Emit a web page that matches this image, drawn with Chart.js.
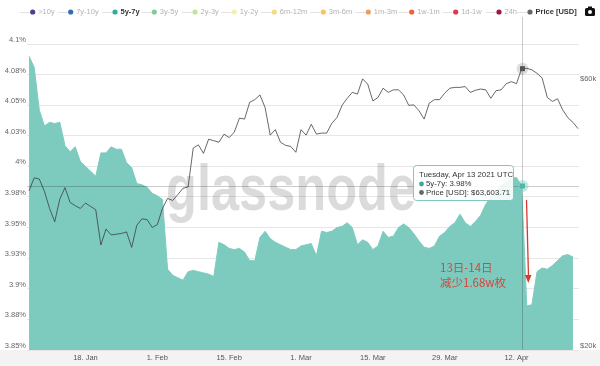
<!DOCTYPE html>
<html><head><meta charset="utf-8">
<script src="https://cdn.jsdelivr.net/npm/chart.js@4"></script>
<style>html,body{margin:0;padding:0;background:#fff}#wrap{width:600px;height:366px;position:relative}</style>
</head><body><div id="wrap"><canvas id="c" width="600" height="366"></canvas></div>
<script>
// day-of-year 2021 of the first data point (Jan 7)
const startDay = 7;
// 5y-7y share of supply (%), daily Jan 7 .. Apr 23
const supply5y7y = [
 4.090,4.081,4.046,4.033,4.036,4.035,4.036,4.017,4.012,4.016,4.004,4.000,3.996,3.992,
 4.011,4.011,4.016,4.014,4.014,4.003,3.999,3.986,3.985,3.983,3.978,3.976,3.973,
 3.916,3.911,3.909,3.907,3.914,3.915,3.914,3.913,3.912,3.910,3.938,3.936,3.933,3.932,
 3.933,3.930,3.923,3.923,3.942,3.947,3.941,3.938,3.936,3.934,3.932,3.932,3.935,
 3.936,3.937,3.927,3.947,3.946,3.947,3.950,3.951,3.954,3.950,3.936,3.940,3.938,3.932,
 3.935,3.947,3.942,3.943,3.950,3.953,3.950,3.945,3.939,3.934,3.933,3.935,3.943,3.946,
 3.951,3.954,3.961,3.954,3.951,3.955,3.960,3.969,3.975,3.980,3.984,3.987,3.990,3.991,
 3.984,3.886,3.887,3.914,3.917,3.916,3.919,3.923,3.927,3.928,3.926
];
// BTC price (USD), daily Jan 7 .. Apr 24
const priceUSD = [
 38500,40600,40400,38400,35800,33900,37200,39000,36700,36200,35800,36600,36100,35600,
 30800,32900,32100,32200,32300,32500,30500,33400,34300,34200,33100,33500,35800,
 37300,37000,37900,38900,39100,45900,46500,44900,47600,47300,47000,48600,47900,49000,
 51900,51700,55400,56000,57100,54200,48400,49500,47000,46400,46200,45100,49500,
 48400,50600,48600,48800,48800,50800,52000,54700,56300,57700,57300,61000,59700,55700,
 56500,58700,57700,58300,58300,57100,54700,54800,53500,51700,55200,56000,56000,57500,
 58700,58900,58900,59100,57700,58200,58500,58300,56300,58100,58300,59800,60300,59800,
 63603.71,63700,63300,62400,61200,56500,55600,56200,53700,52000,51000,49700
];
const xTickDays = [18,32,46,60,74,88,102];
const xTickLabels = ['18. Jan','1. Feb','15. Feb','1. Mar','15. Mar','29. Mar','12. Apr'];
const yTicks = [3.85,3.875,3.9,3.925,3.95,3.975,4,4.025,4.05,4.075,4.1];
const yTickLabels = ['3.85%','3.88%','3.9%','3.93%','3.95%','3.98%','4%','4.03%','4.05%','4.08%','4.1%'];
const priceTicks = [20000,60000];
const priceTickLabels = ['$20k','$60k'];
const legendNames = ['>10y','7y-10y','5y-7y','3y-5y','2y-3y','1y-2y','6m-12m','3m-6m','1m-3m','1w-1m','1d-1w','24h','Price [USD]'];
const legendColors = ['#4b3f91','#2f6fb0','#3aa99c','#86ca93','#c3e39a','#f3f2a8','#f7d97e','#f6c265','#f49b58','#e8653f','#d83c4c','#9a1747','#666666'];
const legendActive = ['5y-7y','Price [USD]'];
const highlightDay = 103; // Apr 13
const noteLines = ['13日-14日','减少1.68w枚'];

const FONT = "'Liberation Sans', Arial, sans-serif";
const TEAL = '#7dcbbf';

const areaPts = supply5y7y.map((v,i)=>({x:startDay+i,y:v}));
const pricePts = priceUSD.map((v,i)=>({x:startDay+i,y:v}));

const extras = {
  id:'extras',
  beforeDraw(chart){
    const c = chart.ctx;
    c.save();
    c.fillStyle = '#f3f3f3';
    c.fillRect(0, chart.chartArea.bottom, chart.width, chart.height - chart.chartArea.bottom);
    c.restore();
  },
  beforeDatasetsDraw(chart){
    const c = chart.ctx;
    c.save();
    c.font = "bold 64px " + FONT;
    const w = c.measureText('glassnode').width;
    c.translate(166, 210);
    c.scale(250 / w, 1);
    c.fillStyle = 'rgba(0,0,0,0.14)';
    c.textBaseline = 'alphabetic';
    c.fillText('glassnode', 0, 0);
    c.restore();
  },
  afterDatasetsDraw(chart){
    const c = chart.ctx, a = chart.chartArea;
    const xs = chart.scales.x, ys = chart.scales.y, yp = chart.scales.yP;
    const idx = highlightDay - startDay;
    const hx = Math.round(xs.getPixelForValue(highlightDay)) + 0.5;
    const hyS = ys.getPixelForValue(supply5y7y[idx]);
    const hyP = yp.getPixelForValue(priceUSD[idx]);
    c.save();
    // crosshair
    c.strokeStyle = 'rgba(0,0,0,0.2)';
    c.lineWidth = 1;
    c.beginPath(); c.moveTo(hx, 17); c.lineTo(hx, a.bottom); c.stroke();
    c.beginPath(); c.moveTo(a.left, Math.round(hyS)+0.5); c.lineTo(a.right, Math.round(hyS)+0.5); c.stroke();
    // markers
    c.fillStyle = 'rgba(125,203,191,0.45)';
    c.beginPath(); c.arc(hx, hyS, 6, 0, Math.PI*2); c.fill();
    c.fillStyle = '#4fb7a8';
    c.fillRect(hx-2.5, hyS-2.5, 5, 5);
    c.fillStyle = 'rgba(0,0,0,0.13)';
    c.beginPath(); c.arc(hx, hyP, 6, 0, Math.PI*2); c.fill();
    c.fillStyle = '#555';
    c.fillRect(hx-2.5, hyP-2.5, 5, 5);
    // annotation arrow
    const ax0 = hx + 4, ax1 = hx + 6, ay0 = hyS + 14, ay1 = ys.getPixelForValue(3.9055);
    c.strokeStyle = '#d43a2e'; c.fillStyle = '#d43a2e'; c.lineWidth = 1.3;
    c.beginPath(); c.moveTo(ax0, ay0); c.lineTo(ax1, ay1 - 5); c.stroke();
    c.beginPath(); c.moveTo(ax1 - 3.5, ay1 - 7); c.lineTo(ax1 + 3, ay1 - 7); c.lineTo(ax1 - 0.2, ay1 + 1); c.closePath(); c.fill();
    // annotation text
    c.fillStyle = '#d8463b';
    c.font = "11.5px 'Noto Sans CJK SC', sans-serif";
    c.textBaseline = 'middle'; c.textAlign = 'left';
    c.fillText(noteLines[0], 440, 268);
    c.fillText(noteLines[1], 440, 283);
    // tooltip
    const bx = 413.5, by = 165.5, bw = 100, bh = 35;
    c.beginPath();
    if (c.roundRect) c.roundRect(bx, by, bw, bh, 3); else c.rect(bx, by, bw, bh);
    c.fillStyle = 'rgba(255,255,255,0.88)'; c.fill();
    c.strokeStyle = TEAL; c.lineWidth = 1; c.stroke();
    const d = new Date(Date.UTC(2021, 0, highlightDay));
    const wd = ['Sunday','Monday','Tuesday','Wednesday','Thursday','Friday','Saturday'][d.getUTCDay()];
    const mo = ['Jan','Feb','Mar','Apr','May','Jun','Jul','Aug','Sep','Oct','Nov','Dec'][d.getUTCMonth()];
    c.font = "7.8px " + FONT;
    c.fillStyle = '#333';
    c.fillText(wd + ', ' + mo + ' ' + d.getUTCDate() + ' ' + d.getUTCFullYear() + ' UTC', 419, 175);
    c.fillStyle = '#3aa99c'; c.beginPath(); c.arc(421.5, 184, 2.4, 0, Math.PI*2); c.fill();
    c.fillStyle = '#666'; c.beginPath(); c.arc(421.5, 192.5, 2.4, 0, Math.PI*2); c.fill();
    c.fillStyle = '#333';
    c.fillText('5y-7y: ' + (Math.round(supply5y7y[idx]*100)/100).toFixed(2) + '%', 426, 184);
    c.fillText('Price [USD]: $' + priceUSD[idx].toLocaleString('en-US',{minimumFractionDigits:2, maximumFractionDigits:2}), 426, 192.5);
    c.restore();
  },
  afterDraw(chart){
    const c = chart.ctx;
    const cx = [32.7,70.7,115,154.3,195,234.3,274.3,323.3,368.3,411.7,455.7,499,530];
    c.save();
    c.textBaseline = 'middle'; c.textAlign = 'left';
    legendNames.forEach((n,i)=>{
      const x = cx[i], y = 12;
      c.strokeStyle = '#e2e2e2'; c.lineWidth = 1;
      c.beginPath(); c.moveTo(x-13, y+0.5); c.lineTo(x-3, y+0.5); c.stroke();
      c.fillStyle = legendColors[i];
      c.beginPath(); c.arc(x, y, 2.6, 0, Math.PI*2); c.fill();
      const act = legendActive.includes(n);
      c.font = (act ? 'bold ' : '') + '7.5px ' + FONT;
      c.fillStyle = act ? '#333' : '#b3b3b3';
      c.fillText(n, x + 5.5, y);
    });
    // camera icon
    c.fillStyle = '#111';
    c.beginPath();
    if (c.roundRect) c.roundRect(585, 8, 10, 8, 1.5); else c.rect(585, 8, 10, 8);
    c.fill();
    c.fillRect(588, 6.5, 4, 2);
    c.fillStyle = '#fff';
    c.beginPath(); c.arc(590, 12, 2, 0, Math.PI*2); c.fill();
    c.restore();
  }
};

new Chart(document.getElementById('c'), {
  type: 'line',
  data: { datasets: [
    { label:'Price [USD]', data: pricePts, yAxisID:'yP', borderColor:'rgba(55,55,55,0.75)', borderWidth:1,
      pointRadius:0, tension:0, fill:false, order:0 },
    { label:'5y-7y', data: areaPts, yAxisID:'y', borderColor: TEAL, backgroundColor: TEAL, borderWidth:1,
      pointRadius:0, tension:0, fill:'start', order:1 }
  ]},
  options: {
    responsive:false, animation:false, devicePixelRatio:1,
    layout:{ padding:{ top:44, left:0, right:0, bottom:0 } },
    plugins:{ legend:{ display:false }, tooltip:{ enabled:false } },
    scales:{
      x:{ type:'linear', min:6.6, max:114.18,
        grid:{ display:false, drawTicks:false }, border:{ display:false },
        afterBuildTicks: s => { s.ticks = xTickDays.map(v=>({value:v})); },
        afterFit: s => { s.height = 16; },
        ticks:{ autoSkip:false, maxRotation:0, padding:3, color:'#555', font:{ family:FONT, size:7.5 },
          callback:(v)=> xTickLabels[xTickDays.indexOf(v)] } },
      y:{ position:'left', min:3.85, max:4.1,
        grid:{ color:'#e6e6e6', drawTicks:false }, border:{ display:false },
        afterBuildTicks: s => { s.ticks = yTicks.map(v=>({value:v})); },
        afterFit: s => { s.width = 27; },
        ticks:{ padding:1, labelOffset:-4, color:'#666', font:{ family:FONT, size:7.5 },
          callback:(v)=> yTickLabels[yTicks.indexOf(v)] } },
      yP:{ type:'logarithmic', position:'right', min:20000, max:70400,
        grid:{ display:false, drawTicks:false }, border:{ display:false },
        afterBuildTicks: s => { s.ticks = priceTicks.map(v=>({value:v})); },
        afterFit: s => { s.width = 21; },
        ticks:{ padding:1, labelOffset:-4, color:'#666', font:{ family:FONT, size:7.5 },
          callback:(v)=> priceTickLabels[priceTicks.indexOf(v)] } }
    }
  },
  plugins:[extras]
});
</script></body></html>
